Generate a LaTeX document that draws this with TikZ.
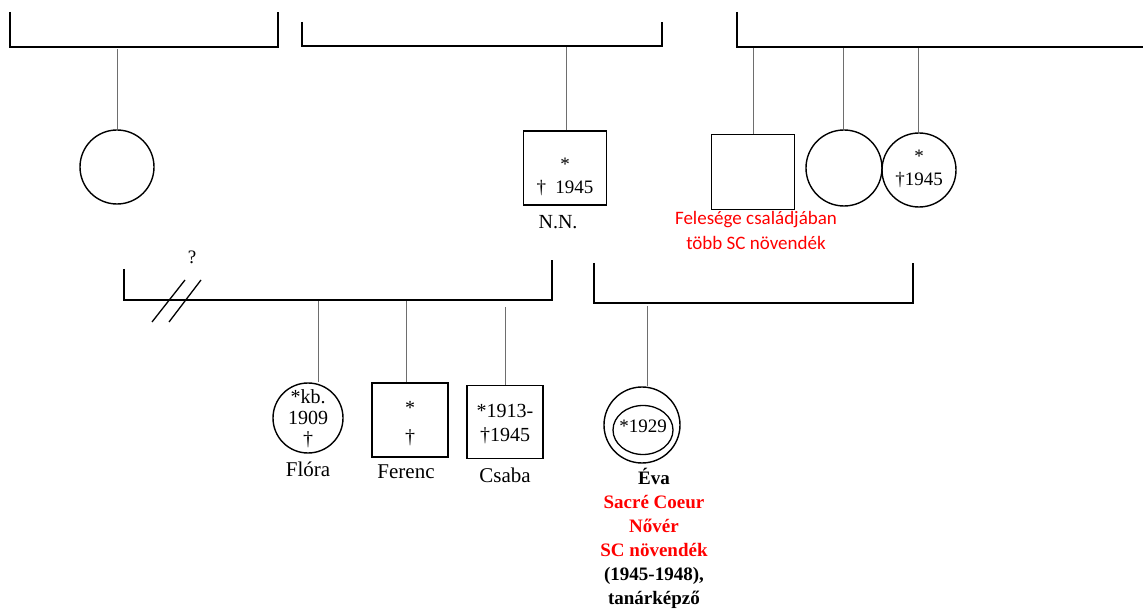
\documentclass[tikz,border=0pt]{standalone}
\usepackage{fontspec}
\setmainfont{Liberation Serif}
\newfontfamily\notefont{Carlito}
\usetikzlibrary{positioning,shapes.geometric}
\definecolor{ftRed}{HTML}{FF0000}
\definecolor{ftStem}{HTML}{6E6E6E}
\tikzset{
 tree/.style={x=1pt,y=-1pt,line cap=butt,line join=miter},
 sibline/.style={draw=black,line width=1.8pt},
 stem/.style={draw=ftStem,line width=.9pt},
 male/.style={rectangle,draw=black,line width=1.4pt,inner sep=0pt},
 female/.style={circle,draw=black,line width=1.4pt,inner sep=0pt},
 inbox/.style={align=center,inner sep=0pt,font=\fontsize{19}{23}\selectfont},
 pname/.style={anchor=base,inner sep=0pt,font=\fontsize{21}{24}\selectfont},
 rednote/.style={anchor=north,inner sep=0pt,align=center,text=ftRed,
   font=\notefont\fontsize{19}{25}\selectfont},
 biolines/.style={anchor=north,inner sep=0pt,align=center,
   font=\bfseries\fontsize{19}{24}\selectfont}
}
\begin{document}
\begin{tikzpicture}[tree]
 \useasboundingbox (0,0) rectangle (1143,609);
 % upper sibling lines
 \draw[sibline] (10,12)--(10,47)--(278,47)--(278,12);
 \draw[sibline] (302,22)--(302,46)--(662,46)--(662,22);
 \draw[sibline] (737,12)--(737,47)--(1143,47);
 \coordinate (up1) at (117,49);
 \coordinate (up2) at (566,47);
 \coordinate (up3a) at (753,48);
 \coordinate (up3b) at (843,48);
 \coordinate (up3c) at (918,48);
 % parents' generation
 \node[female,minimum size=74pt] (mother) at (117,167) {};
 \node[male,minimum width=83pt,minimum height=74pt] (nn) at (565,168) {};
 \node[inbox] (nn-txt) at (565,177) {*\\† \ 1945};
 \node[pname,font=\fontsize{20}{24}\selectfont] (nn-name) at (558,229) {N.N.};
 \node[male,minimum width=83pt,minimum height=75pt] (inlaw) at (753,172) {};
 \node[rednote] (inlaw-note) at (756,211) {Felesége családjában\\több SC növendék};
 \node[female,minimum size=76pt] (aunt) at (844,168) {};
 \node[female,minimum size=74pt] (uncle) at (919,170) {};
 \node[inbox] (uncle-txt) at (919,169) {*\\†1945};
 \draw[stem] (up1)--(mother.north -| up1);
 \draw[stem] (up2)--(nn.north -| up2);
 \draw[stem] (up3a)--(inlaw.north -| up3a);
 \draw[stem] (up3b)--(aunt.north -| up3b);
 \draw[stem] (up3c)--(uncle.north -| up3c);
 % lower sibling lines
 \draw[sibline] (124,269)--(124,300)--(552,300)--(552,260);
 \draw[black,line width=1.3pt] (152,322)--(185,280) (169,322)--(201,280);
 \node[inbox] (div-q) at (192,257) {?};
 \draw[sibline] (594,263)--(594,303)--(913,303)--(913,263);
 \coordinate (lo1) at (318,301);
 \coordinate (lo2) at (406,301);
 \coordinate (lo3) at (505,307);
 \coordinate (lo4) at (647,306);
 % children
 \node[female,minimum size=70pt] (flora) at (308,418) {};
 \node[inbox,font=\fontsize{20}{21}\selectfont] (flora-txt) at (308,419) {*kb.\\1909\\†};
 \node[pname] (flora-name) at (308,476) {Flóra};
 \node[male,minimum width=76pt,minimum height=74pt] (ferenc) at (410,420) {};
 \node[inbox,font=\fontsize{20}{29}\selectfont] (ferenc-txt) at (410,424) {*\\†};
 \node[pname] (ferenc-name) at (406,478) {Ferenc};
 \node[male,minimum width=76pt,minimum height=73pt] (csaba) at (505,422) {};
 \node[inbox,font=\fontsize{20}{24}\selectfont] (csaba-txt) at (505,424) {*1913-\\†1945};
 \node[pname] (csaba-name) at (505,482) {Csaba};
 \node[female,minimum size=76pt] (eva) at (642,425) {};
 \node[ellipse,draw=black,line width=1.3pt,inner sep=0pt,
   minimum width=60pt,minimum height=49pt] (eva-in) at (643,430) {};
 \node[inbox] (eva-txt) at (643,426) {*1929};
 \node[biolines] (eva-bio) at (654,468) {Éva\\\textcolor{ftRed}{Sacré Coeur}\\\textcolor{ftRed}{Nővér}\\
   \textcolor{ftRed}{SC növendék}\\(1945-1948),\\tanárképző};
 \draw[stem] (lo1)--(flora.north -| lo1);
 \draw[stem] (lo2)--(ferenc.north -| lo2);
 \draw[stem] (lo3)--(csaba.north -| lo3);
 \draw[stem] (lo4)--(eva.north -| lo4);
\end{tikzpicture}
\end{document}
